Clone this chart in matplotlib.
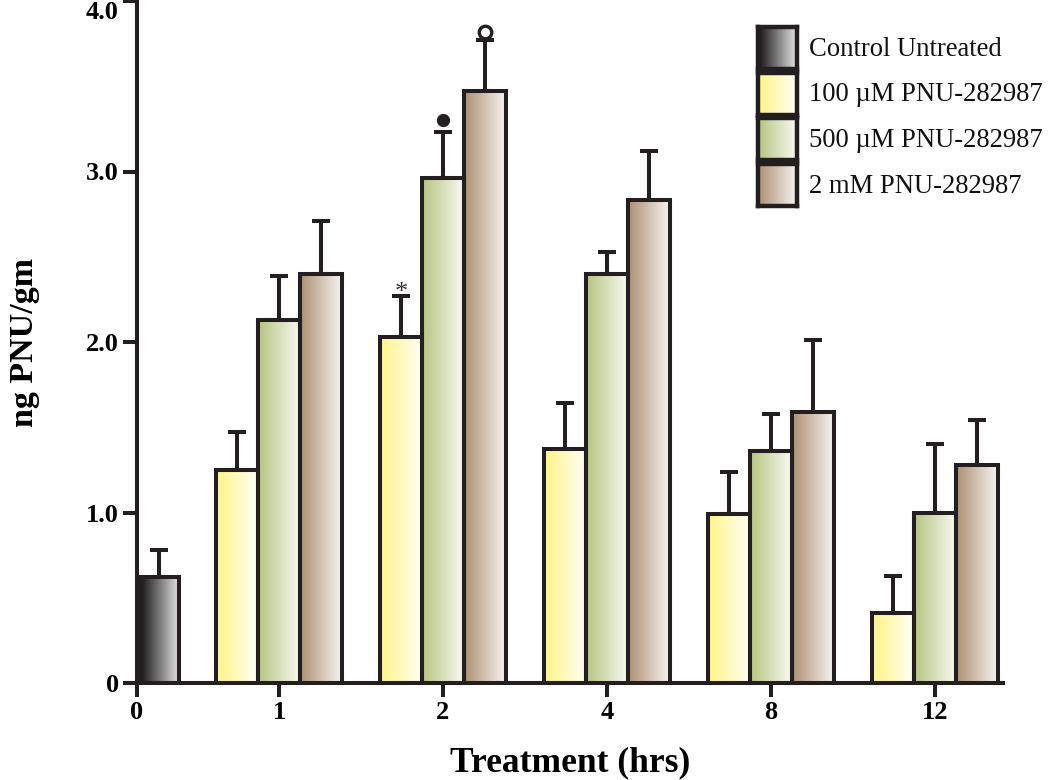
import numpy as np
import matplotlib
matplotlib.use("Agg")
from matplotlib import pyplot as plt
from matplotlib.colors import LinearSegmentedColormap

# data
times = ["1", "2", "4", "8", "12"]
control_mean = 0.62
control_err = 0.16
series = ["100 \u00b5M PNU-282987", "500 \u00b5M PNU-282987", "2 mM PNU-282987"]
means_100 = [1.25, 2.03, 1.37, 0.99, 0.41]
err_100 = [0.22, 0.24, 0.27, 0.25, 0.22]
means_500 = [2.13, 2.96, 2.40, 1.36, 1.00]
err_500 = [0.26, 0.27, 0.13, 0.22, 0.40]
means_2mm = [2.40, 3.47, 2.83, 1.59, 1.28]
err_2mm = [0.31, 0.30, 0.29, 0.42, 0.26]
# significance marks over 2 h group
sig_star = 2.29
sig_dot = 3.30
sig_ring = 3.82

grad_control = ["#141414", "#e4e4e4"]
grad_100 = ["#fff487", "#fffef6"]
grad_500 = ["#b6c47f", "#f8f9f3"]
grad_2mm = ["#ad9074", "#f6f3f1"]
edge = "#231f20"

plt.rcParams["font.family"] = ["Liberation Serif", "DejaVu Serif"]

fig = plt.figure(figsize=(10.5, 7.8), dpi=100)
ax = fig.add_axes([137/1050, 1-683/780, 866/1050, 682/780])

width = 0.256
x_ctrl = 0.271
x0 = 0.134
centers = np.arange(1, len(times)+1)
lw = 2.9


def grad_bar(ax, x, h, w, colors):
    cmap = LinearSegmentedColormap.from_list("g", colors)
    grad = np.linspace(0, 1, 64).reshape(1, -1)
    ax.imshow(grad, cmap=cmap, aspect="auto", extent=[x-w/2, x+w/2, 0, h],
              zorder=1, interpolation="bilinear")
    ax.bar(x, h, w, facecolor="none", edgecolor=edge, linewidth=lw, zorder=3)


def err_up(ax, x, h, e):
    ax.errorbar(x, h, yerr=[[0], [e]], fmt="none", ecolor=edge,
                elinewidth=lw, capsize=6.5, capthick=lw, zorder=2)


grad_bar(ax, x_ctrl, control_mean, width*0.95, grad_control)
err_up(ax, x_ctrl, control_mean, control_err)

groups = [(means_100, err_100, grad_100, -width),
          (means_500, err_500, grad_500, 0.0),
          (means_2mm, err_2mm, grad_2mm, width)]
for m, e, g, off in groups:
    for c, v, ev in zip(centers, m, e):
        grad_bar(ax, c+off, v, width, g)
        err_up(ax, c+off, v, ev)

# marks over the 2 h bars
ax.text(centers[1]-width, sig_star, "*", ha="center", va="center",
        fontsize=19, color="#333333")
ax.plot(centers[1], sig_dot, "o", ms=8.5, color=edge)
ax.plot(centers[1]+width, sig_ring, "o", ms=9, mfc="white", mec=edge, mew=2.4)

ax.set_xlim(x0, 5.415)
ax.set_ylim(0, 4.0)
ax.set_xticks([x0] + list(centers))
ax.set_xticklabels(["0"] + times)
ax.set_yticks([0, 1, 2, 3, 4])
ax.set_yticklabels(["0", "1.0", "2.0", "3.0", "4.0"])
for s in ["top", "right"]:
    ax.spines[s].set_visible(False)
for s in ["left", "bottom"]:
    ax.spines[s].set_linewidth(lw)
    ax.spines[s].set_color(edge)
ax.tick_params(width=lw, length=10, color=edge, labelsize=19, pad=3)
for lab in ax.get_xticklabels() + ax.get_yticklabels():
    lab.set_fontweight("bold")
ax.get_yticklabels()[-1].set_va("top")

ax.set_xlabel("Treatment (hrs)", fontsize=25.5, fontweight="bold", labelpad=16)
ax.set_ylabel("ng PNU/gm", fontsize=24.5, fontweight="bold", labelpad=33)

# legend built by hand: gradient swatches
legend_names = ["Control Untreated"] + series
legend_grads = [grad_control, grad_100, grad_500, grad_2mm]
for i, (name, g) in enumerate(zip(legend_names, legend_grads)):
    top = 27 + i*45.7
    sw = fig.add_axes([758/1050, 1-(top+42)/780, 39/1050, 42/780])
    cmap = LinearSegmentedColormap.from_list("g", g)
    sw.imshow(np.linspace(0, 1, 64).reshape(1, -1), cmap=cmap, aspect="auto",
              interpolation="bilinear")
    sw.set_xticks([])
    sw.set_yticks([])
    for s in sw.spines.values():
        s.set_linewidth(3.2)
        s.set_color(edge)
    fig.text(809/1050, 1-(top+22)/780, name, fontsize=19.2, va="center",
             ha="left", color="#111111")

fig.savefig("out.png", dpi=100)
